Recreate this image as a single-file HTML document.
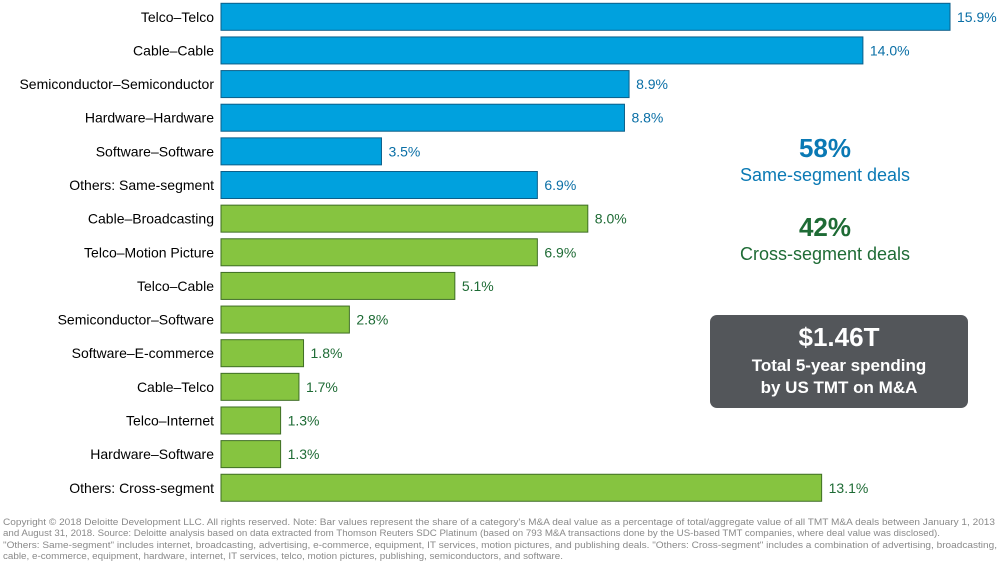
<!DOCTYPE html>
<html><head><meta charset="utf-8"><style>
body{margin:0;width:1000px;height:567px;background:#fff;overflow:hidden;font-family:"Liberation Sans",sans-serif}
svg text{font-family:"Liberation Sans",sans-serif}
</style></head><body>
<svg id="chart" width="1000" height="567" viewBox="0 0 1000 567">
<g id="bars"></g>
<text x="825" y="157" text-anchor="middle" font-size="26" font-weight="bold" fill="#0a79b4">58%</text>
<text x="825" y="181" text-anchor="middle" font-size="18" fill="#0a79b4">Same-segment deals</text>
<text x="825" y="236" text-anchor="middle" font-size="26" font-weight="bold" fill="#1e6b35">42%</text>
<text x="825" y="260" text-anchor="middle" font-size="18" fill="#1e6b35">Cross-segment deals</text>
<g>
<rect x="710" y="315" width="258" height="93" rx="7" fill="#53565a"/>
<text x="839" y="346" text-anchor="middle" font-size="26" font-weight="bold" fill="#fff">$1.46T</text>
<text x="839" y="371" text-anchor="middle" font-size="17" font-weight="bold" fill="#fff">Total 5-year spending</text>
<text x="839" y="393" text-anchor="middle" font-size="17" font-weight="bold" fill="#fff">by US TMT on M&amp;A</text>
</g>
<g font-size="9" fill="#8a8a8a">
<text x="3" y="525" textLength="992" lengthAdjust="spacingAndGlyphs">Copyright © 2018 Deloitte Development LLC. All rights reserved. Note: Bar values represent the share of a category's M&amp;A deal value as a percentage of total/aggregate value of all TMT M&amp;A deals between January 1, 2013</text>
<text x="3" y="536" textLength="937" lengthAdjust="spacingAndGlyphs">and August 31, 2018. Source: Deloitte analysis based on data extracted from Thomson Reuters SDC Platinum (based on 793 M&amp;A transactions done by the US-based TMT companies, where deal value was disclosed).</text>
<text x="3" y="548" textLength="994" lengthAdjust="spacingAndGlyphs">"Others: Same-segment" includes internet, broadcasting, advertising, e-commerce, equipment, IT services, motion pictures, and publishing deals. "Others: Cross-segment" includes a combination of advertising, broadcasting,</text>
<text x="3" y="559" textLength="560" lengthAdjust="spacingAndGlyphs">cable, e-commerce, equipment, hardware, internet, IT services, telco, motion pictures, publishing, semiconductors, and software.</text>
</g>
</svg>
<script>
const categories=["Telco–Telco","Cable–Cable","Semiconductor–Semiconductor","Hardware–Hardware","Software–Software","Others: Same-segment","Cable–Broadcasting","Telco–Motion Picture","Telco–Cable","Semiconductor–Software","Software–E-commerce","Cable–Telco","Telco–Internet","Hardware–Software","Others: Cross-segment"];
const values=[15.9,14.0,8.9,8.8,3.5,6.9,8.0,6.9,5.1,2.8,1.8,1.7,1.3,1.3,13.1];
const segments=["same","same","same","same","same","same","cross","cross","cross","cross","cross","cross","cross","cross","cross"];
const x0=221,scale=45.85,yTop=16.8,step=33.64,bh=27;
const xs=v=>x0+v*scale, ys=i=>yTop+i*step;
const g=document.getElementById('bars');
const NS="http://www.w3.org/2000/svg";
categories.forEach((c,i)=>{
  const same=segments[i]==="same";
  const r=document.createElementNS(NS,'rect');
  r.setAttribute('x',x0);r.setAttribute('y',ys(i)-bh/2);
  r.setAttribute('width',xs(values[i])-x0);r.setAttribute('height',bh);
  r.setAttribute('fill',same?'#00a1de':'#86c440');
  r.setAttribute('stroke',same?'#0b5f8a':'#3f6e25');r.setAttribute('stroke-width','1');
  
  
  g.appendChild(r);
  const t=document.createElementNS(NS,'text');
  t.setAttribute('x',214);t.setAttribute('y',ys(i)+5);t.setAttribute('text-anchor','end');
  t.setAttribute('font-size','14');t.setAttribute('fill','#000');t.textContent=c;
  
  
  g.appendChild(t);
  const v=document.createElementNS(NS,'text');
  v.setAttribute('x',xs(values[i])+7);v.setAttribute('y',ys(i)+5);
  v.setAttribute('font-size','14');v.setAttribute('fill',same?'#0a6fa6':'#1e6b35');
  v.textContent=values[i].toFixed(1)+'%';
  
  
  g.appendChild(v);
});
</script>
</body></html>
